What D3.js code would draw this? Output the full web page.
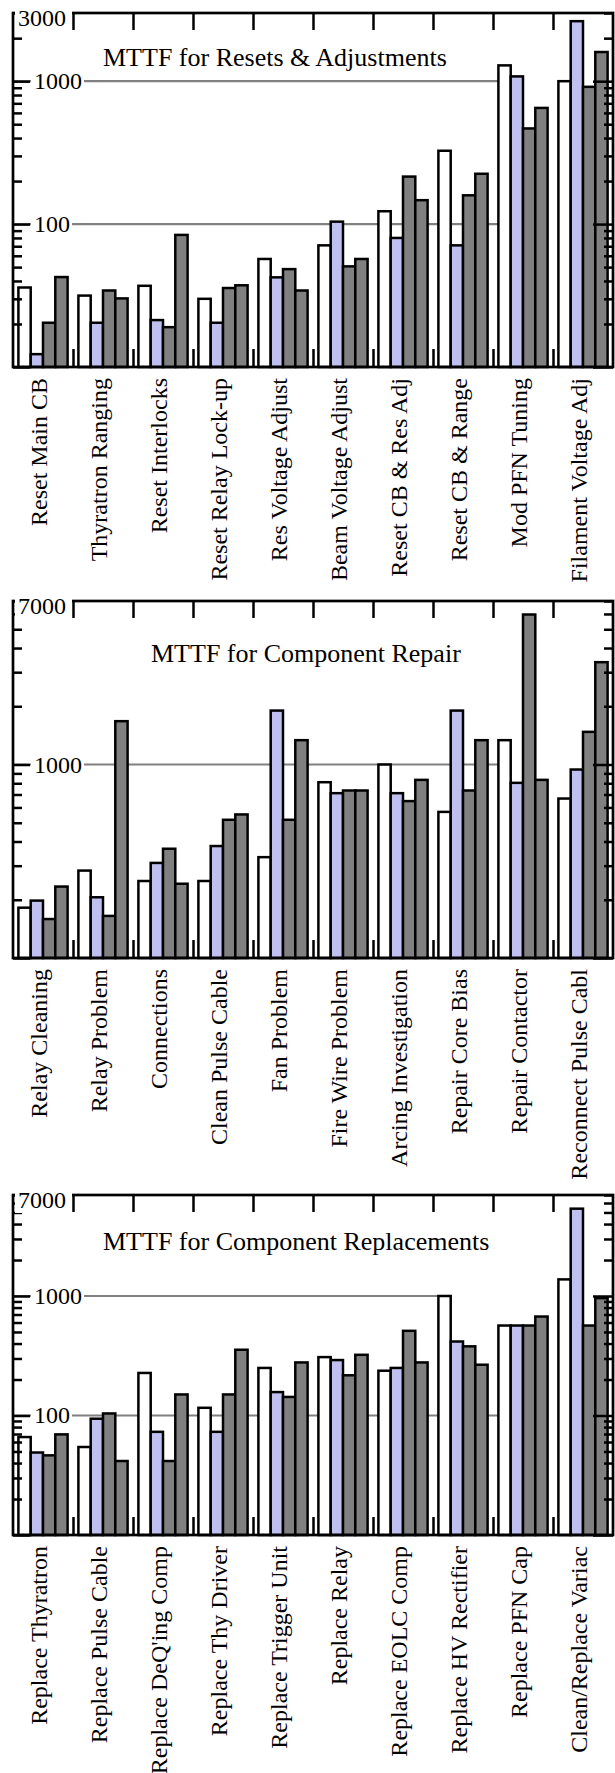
<!DOCTYPE html>
<html>
<head>
<meta charset="utf-8">
<script src="https://cdn.jsdelivr.net/npm/d3@7"></script>
<style>
  html, body { margin: 0; padding: 0; background: #fff; }
  svg { display: block; }
  text { font-family: "Liberation Serif", "Times New Roman", serif; fill: #000; }
</style>
</head>
<body>
<svg id="chart" width="615" height="1773"></svg>
<script>
// ---------- DATA ----------
const resetTitle = "MTTF for Resets & Adjustments";
const resetCats = ["Reset Main CB", "Thyratron Ranging", "Reset Interlocks", "Reset Relay Lock-up",
  "Res Voltage Adjust", "Beam Voltage Adjust", "Reset CB & Res Adj", "Reset CB & Range",
  "Mod PFN Tuning", "Filament Voltage Adj"];
const resetS1 = [36, 31.6, 37, 30, 57, 71, 123, 326, 1290, 1000];
const resetS2 = [12.3, 20.4, 21.3, 20.4, 42.4, 104, 80, 71, 1080, 2630];
const resetS3 = [20.4, 34.3, 19, 35.7, 48.4, 50.6, 215, 159, 467, 913];
const resetS4 = [42.6, 30.2, 84, 37.3, 34.3, 57, 147, 225, 650, 1600];
const resetDomain = [10, 3000];
const resetTickLabels = [3000, 1000, 100];

const repairTitle = "MTTF for Component Repair";
const repairCats = ["Relay Cleaning", "Relay Problem", "Connections", "Clean Pulse Cable",
  "Fan Problem", "Fire Wire Problem", "Arcing Investigation", "Repair Core Bias",
  "Repair Contactor", "Reconnect Pulse Cabl"];
const repairS1 = [182, 283, 250, 250, 332, 810, 1000, 569, 1336, 667];
const repairS2 = [198, 206, 310, 379, 1900, 711, 711, 1900, 804, 942];
const repairS3 = [159, 165, 367, 518, 518, 734, 647, 734, 5960, 1475];
const repairS4 = [234, 1675, 242, 552, 1336, 734, 833, 1336, 833, 3380];
const repairDomain = [100, 7000];
const repairTickLabels = [7000, 1000];

const replaceTitle = "MTTF for Component Replacements";
const replaceCats = ["Replace Thyratron", "Replace Pulse Cable", "Replace DeQ'ing Comp",
  "Replace Thy Driver", "Replace Trigger Unit", "Replace Relay", "Replace EOLC Comp",
  "Replace HV Rectifier", "Replace PFN Cap", "Clean/Replace Variac"];
const replaceS1 = [66, 54.5, 227, 116, 250, 308, 237, 1000, 566, 1377];
const replaceS2 = [49, 94, 73, 73, 157, 291, 250, 416, 566, 5380];
const replaceS3 = [46.4, 104, 41.6, 150, 143, 217, 511, 379, 566, 566];
const replaceS4 = [69.5, 41.6, 150, 355, 278, 322, 278, 266, 673, 960];
const replaceDomain = [10, 7000];
const replaceTickLabels = [7000, 1000, 100];

const seriesColors = ["#ffffff", "#c0c0f0", "#808080", "#808080"];

// ---------- DRAWING ----------
const svg = d3.select("#chart");

const panels = [
  { title: resetTitle, cats: resetCats, series: [resetS1, resetS2, resetS3, resetS4],
    domain: resetDomain, labels: resetTickLabels, top: 13, bottom: 367, titleX: 103, titleDy: 53,
    gridStop: {} },
  { title: repairTitle, cats: repairCats, series: [repairS1, repairS2, repairS3, repairS4],
    domain: repairDomain, labels: repairTickLabels, top: 601, bottom: 958, titleX: 151, titleDy: 61,
    gridStop: {} },
  { title: replaceTitle, cats: replaceCats, series: [replaceS1, replaceS2, replaceS3, replaceS4],
    domain: replaceDomain, labels: replaceTickLabels, top: 1195, bottom: 1535, titleX: 103, titleDy: 55,
    gridStop: { 1000: 7 } }
];

const left = 13, right = 613;

function logTicks(domain) {
  const major = [], minor = [];
  const lo = Math.floor(Math.log10(domain[0])), hi = Math.ceil(Math.log10(domain[1]));
  for (let e = lo; e <= hi; e++) {
    for (let m = 1; m <= 9; m++) {
      const v = m * Math.pow(10, e);
      if (v < domain[0] - 1e-9 || v > domain[1] + 1e-9) continue;
      (m === 1 ? major : minor).push(v);
    }
  }
  return { major, minor };
}

panels.forEach(p => {
  const g = svg.append("g");
  const y = d3.scaleLog().domain(p.domain).range([p.bottom, p.top]);
  const x0 = d3.scaleBand().domain(p.cats).range([left, right]).paddingInner(0.18).paddingOuter(0.09);
  const x1 = d3.scaleBand().domain(d3.range(p.series.length)).range([0, x0.bandwidth()]);
  const xb = d3.scaleLinear().domain([0, p.cats.length]).range([left, right]);
  const { major, minor } = logTicks(p.domain);

  // gridlines at decades (not at bottom)
  g.append("g").selectAll("line")
    .data(major.filter(v => y(v) > p.top + 1 && y(v) < p.bottom - 1))
    .join("line")
    .attr("x1", left)
    .attr("x2", d => x0(p.cats[p.gridStop[d] !== undefined ? p.gridStop[d] : 8]))
    .attr("y1", d => y(d)).attr("y2", d => y(d))
    .attr("stroke", "#808080").attr("stroke-width", 2.2);

  // bars
  const rows = p.cats.map((c, i) => ({ c, vals: p.series.map(s => s[i]) }));
  g.append("g").selectAll("g")
    .data(rows).join("g")
    .attr("transform", d => `translate(${x0(d.c)},0)`)
    .selectAll("rect")
    .data(d => d.vals.map((v, k) => ({ v, k })))
    .join("rect")
    .attr("x", d => x1(d.k))
    .attr("width", x1.bandwidth())
    .attr("y", d => y(d.v))
    .attr("height", d => p.bottom - y(d.v))
    .attr("fill", d => seriesColors[d.k])
    .attr("stroke", "#000").attr("stroke-width", 2.5);

  // ticks (inward)
  const tickStyle = sel => {
    sel.select(".domain").remove();
    sel.selectAll(".tick line").attr("stroke", "#000").attr("stroke-width", 2.5);
    sel.selectAll(".tick text").remove();
  };
  g.append("g").attr("transform", `translate(${left},0)`)
    .call(d3.axisLeft(y).tickValues(minor).tickSize(-9).tickFormat("")).call(tickStyle);
  g.append("g").attr("transform", `translate(${left},0)`)
    .call(d3.axisLeft(y).tickValues(major).tickSize(-17).tickFormat("")).call(tickStyle);
  g.append("g").attr("transform", `translate(${right},0)`)
    .call(d3.axisRight(y).tickValues(minor).tickSize(-9).tickFormat("")).call(tickStyle);
  g.append("g").attr("transform", `translate(${right},0)`)
    .call(d3.axisRight(y).tickValues(major).tickSize(-20).tickFormat("")).call(tickStyle);
  const bounds = d3.range(1, p.cats.length);
  g.append("g").attr("transform", `translate(0,${p.top})`)
    .call(d3.axisTop(xb).tickValues(bounds).tickSize(-17).tickFormat("")).call(tickStyle);
  g.append("g").attr("transform", `translate(0,${p.bottom})`)
    .call(d3.axisBottom(xb).tickValues(bounds).tickSize(-18).tickFormat("")).call(tickStyle);

  // frame
  g.append("rect").attr("x", left).attr("y", p.top)
    .attr("width", right - left).attr("height", p.bottom - p.top)
    .attr("fill", "none").attr("stroke", "#000").attr("stroke-width", 2.7);

  // y tick labels with white background
  p.labels.forEach(v => {
    const isTop = Math.abs(y(v) - p.top) < 2;
    const tx = isTop ? left + 5 : left + 21;
    const ty = isTop ? p.top + 5 : y(v);
    const t = g.append("text")
      .attr("x", tx).attr("y", ty)
      .attr("dominant-baseline", "central")
      .attr("font-size", 24)
      .text(d3.format("d")(v));
    const bb = t.node().getBBox();
    const rx = isTop ? left + 2 : left + 18;
    const rw = isTop ? xb(1) - 1 - rx : bb.x + bb.width + 2 - rx;
    g.insert("rect", () => t.node())
      .attr("x", rx).attr("y", isTop ? p.top - 12 : bb.y + 3)
      .attr("width", rw).attr("height", isTop ? bb.y + bb.height - (p.top - 12) : bb.height - 6)
      .attr("fill", "#fff");
  });

  // title
  g.append("text")
    .attr("x", p.titleX).attr("y", p.top + p.titleDy)
    .attr("font-size", 26)
    .text(p.title);

  // category labels (rotated)
  g.append("g").selectAll("text")
    .data(p.cats).join("text")
    .attr("transform", d => `translate(${x0(d) + x0.bandwidth() / 2 + 4},${p.bottom + 11}) rotate(-90)`)
    .attr("text-anchor", "end")
    .attr("font-size", 24)
    .text(d => d);
});
</script>
</body>
</html>
